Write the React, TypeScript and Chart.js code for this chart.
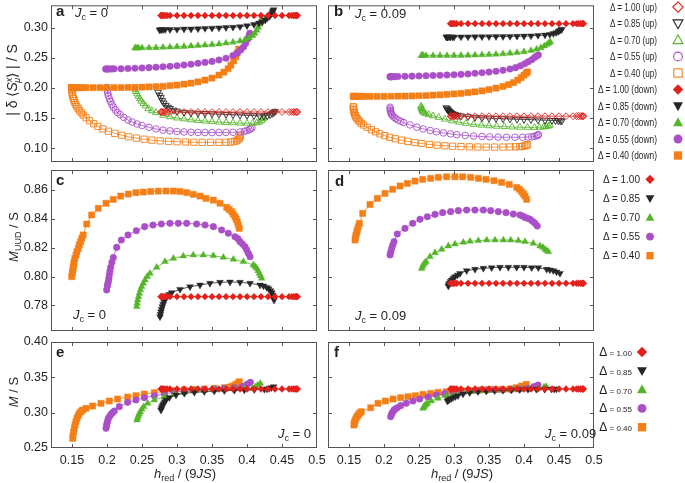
import React, { useEffect, useRef } from "react";
import { Chart, registerables } from "chart.js";
Chart.register(...registerables);

const W = 685;
const H = 483;
const FONT = "'Liberation Sans', Arial, Helvetica, sans-serif";
const RED = "#e3211c";
const BLACK = "#262626";
const GREEN = "#55b52a";
const PURPLE = "#aa4fc8";
const ORANGE = "#f57f17";
const TEXT = "#231f20";
const FRAME = "#555555";
const Y_AXIS_W = 45;
const X_AXIS_H = 30;

// ---------- ticks ----------
const xTickValues = [0.15, 0.2, 0.25, 0.3, 0.35, 0.4, 0.45, 0.5];
const xTickLabels = ["0.15", "0.2", "0.25", "0.3", "0.35", "0.4", "0.45", "0.5"];
const yTicksTop = [0.1, 0.15, 0.2, 0.25, 0.3];
const yLabelsTop = ["0.10", "0.15", "0.20", "0.25", "0.30"];
const yTicksMid = [0.78, 0.8, 0.82, 0.84, 0.86];
const yLabelsMid = ["0.78", "0.80", "0.82", "0.84", "0.86"];
const yTicksBot = [0.25, 0.3, 0.35, 0.4];
const yLabelsBot = ["0.25", "0.30", "0.35", "0.40"];
const deltas = ["1.00", "0.85", "0.70", "0.55", "0.40"];

// ---------- Δ = 1.00 (flat) series: field values and levels ----------
const redXLeft = [0.277, 0.278, 0.279, 0.281, 0.283, 0.286, 0.29, 0.3, 0.31, 0.32, 0.33, 0.34, 0.35, 0.36, 0.37, 0.38, 0.39, 0.4, 0.41, 0.42, 0.43, 0.44, 0.45, 0.46, 0.464, 0.467, 0.469, 0.471, 0.472];
const redXRight = [0.295, 0.296, 0.297, 0.299, 0.301, 0.304, 0.31, 0.32, 0.33, 0.34, 0.35, 0.36, 0.37, 0.38, 0.39, 0.4, 0.41, 0.42, 0.43, 0.44, 0.45, 0.46, 0.47, 0.475, 0.478, 0.481, 0.483, 0.484, 0.485];
const redLevelADown = 0.3205;
const redLevelAUp = 0.16;
const redLevelBDown = 0.307;
const redLevelBUp = 0.153;
const redLevelC = 0.786;
const redLevelD = 0.7953;
const redLevelE = 0.3335;
const redLevelF = 0.3335;

// ---------- panel a (J_c = 0) ----------
const aBlackDown = [[0.275,0.2965],[0.276,0.297],[0.278,0.297],[0.28,0.297],[0.283,0.297],[0.29,0.2972],[0.3,0.2975],[0.31,0.298],[0.32,0.298],[0.33,0.2985],[0.34,0.299],[0.35,0.2995],[0.36,0.3],[0.37,0.3005],[0.38,0.301],[0.39,0.302],[0.4,0.3035],[0.41,0.3055],[0.417,0.308],[0.422,0.31],[0.426,0.313],[0.429,0.316],[0.432,0.319],[0.434,0.322],[0.436,0.325],[0.437,0.328],[0.438,0.33]];
const aBlackUp = [[0.273,0.193],[0.275,0.188],[0.277,0.184],[0.279,0.179],[0.281,0.175],[0.284,0.171],[0.287,0.168],[0.29,0.166],[0.295,0.163],[0.3,0.1615],[0.31,0.1595],[0.32,0.1585],[0.33,0.158],[0.34,0.1575],[0.35,0.157],[0.36,0.1565],[0.37,0.156],[0.38,0.1555],[0.39,0.155],[0.4,0.1545],[0.41,0.154],[0.418,0.1535],[0.424,0.1535],[0.429,0.154],[0.433,0.1555],[0.436,0.1575],[0.438,0.159],[0.44,0.161]];
const aGreenDown = [[0.24,0.2663],[0.241,0.2663],[0.243,0.2664],[0.245,0.2665],[0.25,0.2666],[0.26,0.2668],[0.27,0.267],[0.28,0.2675],[0.29,0.268],[0.3,0.2685],[0.31,0.269],[0.32,0.2698],[0.33,0.2705],[0.34,0.2712],[0.35,0.272],[0.36,0.273],[0.37,0.2745],[0.38,0.276],[0.39,0.278],[0.397,0.28],[0.403,0.283],[0.408,0.287],[0.411,0.291],[0.414,0.296],[0.416,0.301],[0.418,0.306],[0.42,0.311],[0.421,0.315]];
const aGreenUp = [[0.24,0.198],[0.241,0.194],[0.243,0.19],[0.245,0.186],[0.247,0.182],[0.249,0.178],[0.252,0.174],[0.255,0.17],[0.259,0.1655],[0.264,0.162],[0.27,0.159],[0.28,0.1545],[0.29,0.152],[0.3,0.15],[0.31,0.1485],[0.32,0.147],[0.33,0.1458],[0.34,0.1448],[0.35,0.144],[0.36,0.1432],[0.37,0.1425],[0.38,0.142],[0.39,0.1415],[0.4,0.1412],[0.408,0.1412],[0.414,0.142],[0.418,0.1435],[0.421,0.146],[0.423,0.149],[0.424,0.151]];
const aPurpleDown = [[0.198,0.2315],[0.199,0.2315],[0.2,0.2315],[0.202,0.2315],[0.204,0.2316],[0.207,0.2317],[0.21,0.2318],[0.22,0.232],[0.23,0.2324],[0.24,0.2328],[0.25,0.2333],[0.26,0.2338],[0.27,0.2345],[0.28,0.2352],[0.29,0.236],[0.3,0.237],[0.31,0.2382],[0.32,0.2395],[0.33,0.241],[0.34,0.2425],[0.35,0.2442],[0.36,0.2465],[0.37,0.2495],[0.38,0.254],[0.386,0.258],[0.391,0.263],[0.395,0.268],[0.398,0.274],[0.401,0.281],[0.403,0.287],[0.404,0.291]];
const aPurpleUp = [[0.1996,0.2007],[0.2005,0.196],[0.201,0.1915],[0.202,0.187],[0.2035,0.182],[0.205,0.1775],[0.207,0.1725],[0.209,0.168],[0.212,0.1635],[0.215,0.159],[0.219,0.1555],[0.224,0.151],[0.23,0.1467],[0.236,0.1433],[0.243,0.14],[0.25,0.1375],[0.26,0.1345],[0.27,0.1318],[0.28,0.1298],[0.29,0.1285],[0.3,0.1275],[0.31,0.1268],[0.32,0.1263],[0.33,0.126],[0.34,0.1258],[0.35,0.1258],[0.36,0.1258],[0.37,0.126],[0.38,0.1262],[0.39,0.1268],[0.396,0.1278],[0.4,0.129],[0.403,0.1305],[0.405,0.132],[0.407,0.1335]];
const aOrangeDown = [[0.1495,0.2005],[0.15,0.2005],[0.151,0.2005],[0.153,0.2005],[0.155,0.2005],[0.158,0.2005],[0.161,0.2005],[0.165,0.2005],[0.17,0.2005],[0.18,0.2005],[0.19,0.2005],[0.2,0.2005],[0.21,0.2006],[0.22,0.2007],[0.23,0.2008],[0.24,0.201],[0.25,0.2013],[0.26,0.2017],[0.27,0.2022],[0.28,0.2028],[0.29,0.2037],[0.3,0.2048],[0.31,0.2062],[0.32,0.208],[0.33,0.2102],[0.34,0.213],[0.35,0.2165],[0.36,0.2215],[0.367,0.2262],[0.373,0.232],[0.377,0.238],[0.381,0.245],[0.384,0.252],[0.386,0.258],[0.388,0.2645]];
const aOrangeUp = [[0.1495,0.2005],[0.1498,0.197],[0.15,0.193],[0.1505,0.1895],[0.151,0.186],[0.152,0.1825],[0.153,0.179],[0.154,0.1757],[0.1555,0.1723],[0.157,0.169],[0.159,0.1655],[0.161,0.162],[0.1635,0.1585],[0.166,0.155],[0.17,0.1505],[0.175,0.1455],[0.181,0.1405],[0.187,0.136],[0.194,0.1318],[0.202,0.128],[0.211,0.1245],[0.221,0.1213],[0.231,0.1187],[0.242,0.1165],[0.253,0.1147],[0.264,0.1132],[0.276,0.112],[0.288,0.1112],[0.3,0.1105],[0.312,0.11],[0.324,0.1097],[0.336,0.1095],[0.348,0.1095],[0.36,0.1095],[0.37,0.1097],[0.377,0.11],[0.382,0.1108],[0.385,0.112],[0.387,0.1138],[0.389,0.116],[0.39,0.1185],[0.3905,0.121]];

// ---------- panel b (J_c = 0.09) ----------
const bBlackDown = [[0.289,0.2848],[0.2895,0.2848],[0.29,0.2848],[0.291,0.2848],[0.293,0.2848],[0.295,0.2848],[0.298,0.2848],[0.3,0.2848],[0.31,0.2849],[0.32,0.285],[0.33,0.2851],[0.34,0.2852],[0.35,0.2853],[0.36,0.2855],[0.37,0.2856],[0.38,0.2858],[0.39,0.286],[0.4,0.2863],[0.41,0.2867],[0.42,0.2873],[0.43,0.288],[0.437,0.289],[0.442,0.2905],[0.446,0.292],[0.449,0.294],[0.451,0.2955],[0.453,0.297],[0.454,0.2975]];
const bBlackUp = [[0.289,0.167],[0.29,0.1655],[0.291,0.164],[0.292,0.1627],[0.293,0.1615],[0.294,0.1603],[0.295,0.1593],[0.296,0.1583],[0.298,0.1572],[0.3,0.1562],[0.302,0.1553],[0.305,0.1545],[0.31,0.1535],[0.32,0.1522],[0.33,0.1512],[0.34,0.1503],[0.35,0.1498],[0.36,0.1493],[0.37,0.1488],[0.38,0.1484],[0.39,0.148],[0.4,0.1476],[0.41,0.1472],[0.42,0.1468],[0.43,0.1464],[0.44,0.146],[0.445,0.1457],[0.449,0.1455],[0.452,0.1453],[0.454,0.1452]];
const bGreenDown = [[0.2538,0.2539],[0.254,0.2539],[0.2545,0.2539],[0.255,0.2539],[0.256,0.2539],[0.26,0.2539],[0.27,0.2539],[0.28,0.2539],[0.29,0.2539],[0.3,0.254],[0.31,0.2541],[0.32,0.2543],[0.33,0.2546],[0.34,0.255],[0.35,0.2555],[0.36,0.256],[0.37,0.2567],[0.38,0.2577],[0.39,0.2588],[0.4,0.2602],[0.41,0.2622],[0.418,0.2645],[0.424,0.267],[0.429,0.2698],[0.433,0.2725],[0.436,0.2748],[0.4376,0.2767]];
const bGreenUp = [[0.2529,0.1697],[0.2533,0.1675],[0.2538,0.1655],[0.2545,0.1635],[0.2552,0.1617],[0.256,0.16],[0.2575,0.1585],[0.26,0.157],[0.264,0.1555],[0.27,0.1535],[0.278,0.151],[0.287,0.148],[0.297,0.1452],[0.307,0.143],[0.317,0.141],[0.328,0.1393],[0.339,0.138],[0.35,0.137],[0.361,0.1362],[0.372,0.1356],[0.383,0.135],[0.394,0.1346],[0.405,0.1344],[0.415,0.1343],[0.422,0.1345],[0.428,0.135],[0.432,0.1358],[0.435,0.1368],[0.437,0.138]];
const bPurpleDown = [[0.2086,0.2186],[0.209,0.2186],[0.2095,0.2186],[0.21,0.2186],[0.211,0.2187],[0.213,0.2188],[0.216,0.2189],[0.22,0.219],[0.23,0.2193],[0.24,0.2196],[0.25,0.22],[0.26,0.2203],[0.27,0.2207],[0.28,0.2211],[0.29,0.2215],[0.3,0.2219],[0.31,0.2225],[0.32,0.2233],[0.33,0.2243],[0.34,0.2253],[0.35,0.2264],[0.36,0.2277],[0.37,0.2293],[0.38,0.2315],[0.388,0.2338],[0.395,0.2368],[0.401,0.2402],[0.406,0.2435],[0.411,0.247],[0.415,0.2505],[0.418,0.253],[0.4205,0.2549]];
const bPurpleUp = [[0.2086,0.168],[0.2088,0.1655],[0.209,0.163],[0.2095,0.1605],[0.21,0.158],[0.211,0.1557],[0.2125,0.1535],[0.2145,0.1512],[0.217,0.149],[0.22,0.1468],[0.224,0.1445],[0.228,0.1425],[0.237,0.1385],[0.247,0.1348],[0.256,0.1318],[0.266,0.1292],[0.275,0.127],[0.285,0.1252],[0.295,0.1236],[0.304,0.1222],[0.316,0.121],[0.328,0.12],[0.34,0.1192],[0.351,0.1186],[0.363,0.1182],[0.375,0.118],[0.387,0.118],[0.398,0.118],[0.406,0.1182],[0.411,0.1187],[0.415,0.1195],[0.418,0.1205],[0.42,0.1215],[0.4205,0.1225]];
const bOrangeDown = [[0.156,0.186],[0.1565,0.186],[0.157,0.186],[0.158,0.186],[0.16,0.186],[0.163,0.186],[0.167,0.186],[0.172,0.186],[0.18,0.186],[0.19,0.186],[0.2,0.1861],[0.21,0.1862],[0.22,0.1863],[0.23,0.1865],[0.24,0.1867],[0.25,0.187],[0.26,0.1874],[0.27,0.1879],[0.28,0.1885],[0.29,0.1892],[0.3,0.19],[0.31,0.191],[0.32,0.1922],[0.33,0.1936],[0.34,0.1953],[0.35,0.1973],[0.36,0.1998],[0.37,0.2025],[0.378,0.2055],[0.385,0.209],[0.391,0.213],[0.396,0.2172],[0.4,0.2212],[0.403,0.2245],[0.405,0.2267]];
const bOrangeUp = [[0.156,0.169],[0.1562,0.1665],[0.1565,0.164],[0.157,0.1615],[0.1575,0.159],[0.158,0.1565],[0.159,0.154],[0.16,0.1515],[0.1615,0.149],[0.163,0.1465],[0.165,0.144],[0.1675,0.1412],[0.171,0.1383],[0.176,0.1345],[0.182,0.1305],[0.188,0.127],[0.194,0.1237],[0.201,0.1207],[0.208,0.118],[0.216,0.1155],[0.225,0.1132],[0.234,0.1111],[0.244,0.1092],[0.254,0.1075],[0.265,0.106],[0.276,0.1047],[0.287,0.1037],[0.298,0.103],[0.31,0.1024],[0.322,0.102],[0.334,0.1018],[0.346,0.1016],[0.358,0.1016],[0.37,0.1017],[0.38,0.1019],[0.388,0.1021],[0.394,0.1024],[0.398,0.1028],[0.401,0.1035],[0.403,0.1045],[0.405,0.1057]];

// ---------- panel c (M_UUD, J_c = 0) ----------
const cOrange = [[0.1495,0.7999],[0.1505,0.8025],[0.151,0.8045],[0.1519,0.8064],[0.1525,0.8085],[0.153,0.81],[0.154,0.8125],[0.1557,0.8149],[0.157,0.8172],[0.159,0.8195],[0.1605,0.822],[0.1624,0.8242],[0.164,0.8265],[0.166,0.8288],[0.171,0.8364],[0.178,0.8427],[0.1876,0.8473],[0.1986,0.8508],[0.209,0.8535],[0.2195,0.8558],[0.2305,0.8572],[0.2414,0.8582],[0.2519,0.8586],[0.2624,0.859],[0.2733,0.8592],[0.2843,0.8593],[0.2948,0.8593],[0.3043,0.859],[0.3138,0.8582],[0.3233,0.857],[0.3329,0.8558],[0.3414,0.8542],[0.3519,0.853],[0.3614,0.8508],[0.371,0.848],[0.3745,0.8465],[0.3781,0.845],[0.3805,0.8432],[0.3829,0.8415],[0.3845,0.8398],[0.3862,0.838],[0.3876,0.8357],[0.389,0.8334]];
const cPurple = [[0.1995,0.7906],[0.2005,0.7935],[0.2012,0.795],[0.2019,0.7964],[0.2026,0.7987],[0.2033,0.801],[0.2042,0.8037],[0.2052,0.8064],[0.207,0.8098],[0.209,0.8131],[0.2138,0.8202],[0.2205,0.8253],[0.23,0.8288],[0.2419,0.8318],[0.2538,0.8346],[0.2657,0.8357],[0.2776,0.8364],[0.29,0.8369],[0.3019,0.8369],[0.3138,0.8369],[0.328,0.8364],[0.34,0.8357],[0.3519,0.8346],[0.3638,0.8323],[0.3733,0.83],[0.3829,0.8276],[0.387,0.8262],[0.39,0.8242],[0.3935,0.8225],[0.3971,0.8207],[0.3995,0.8185],[0.4019,0.8161],[0.4043,0.8138]];
const cGreen = [[0.2424,0.7791],[0.2431,0.7814],[0.2438,0.7837],[0.245,0.786],[0.2462,0.7883],[0.2478,0.7907],[0.2495,0.793],[0.2518,0.7953],[0.2543,0.7976],[0.2575,0.8],[0.2614,0.8022],[0.271,0.8064],[0.2829,0.8103],[0.2948,0.8126],[0.309,0.8142],[0.3233,0.8149],[0.3376,0.8149],[0.3519,0.8145],[0.3662,0.8133],[0.3805,0.8119],[0.3948,0.8103],[0.409,0.808],[0.4115,0.807],[0.4138,0.8057],[0.4158,0.804],[0.4176,0.8022],[0.4193,0.8005],[0.421,0.7987]];
const cBlack = [[0.2757,0.7721],[0.2764,0.7738],[0.2771,0.7756],[0.278,0.7773],[0.279,0.7791],[0.2801,0.7808],[0.2814,0.7825],[0.2832,0.7843],[0.2852,0.786],[0.2885,0.7875],[0.2924,0.7888],[0.3043,0.7911],[0.3186,0.7929],[0.3329,0.7941],[0.3471,0.7953],[0.3614,0.796],[0.3757,0.7962],[0.39,0.796],[0.4043,0.7953],[0.4186,0.7941],[0.4235,0.7935],[0.4281,0.7925],[0.431,0.7915],[0.4338,0.7902],[0.4355,0.7888],[0.4367,0.7872],[0.4378,0.7855],[0.4386,0.7837]];

// ---------- panel d (M_UUD, J_c = 0.09) ----------
const dOrange = [[0.1586,0.8253],[0.1593,0.827],[0.16,0.8288],[0.161,0.8305],[0.1619,0.8323],[0.1633,0.8346],[0.1648,0.8369],[0.1695,0.8438],[0.18,0.85],[0.1905,0.8542],[0.2014,0.8577],[0.2124,0.8605],[0.2229,0.8628],[0.2333,0.8646],[0.2443,0.8662],[0.2552,0.8674],[0.2667,0.8681],[0.2776,0.8688],[0.2895,0.8692],[0.3014,0.8692],[0.3124,0.8692],[0.3238,0.8688],[0.3348,0.8681],[0.3457,0.8674],[0.3571,0.8665],[0.3681,0.8653],[0.379,0.8639],[0.3895,0.8618],[0.3935,0.8605],[0.3967,0.8588],[0.3992,0.8573],[0.4014,0.8558],[0.4038,0.8535]];
const dPurple = [[0.2086,0.8149],[0.2097,0.8172],[0.211,0.8195],[0.2125,0.8218],[0.2143,0.8242],[0.219,0.8295],[0.23,0.8334],[0.241,0.8369],[0.2514,0.8397],[0.2619,0.8415],[0.2729,0.8431],[0.2838,0.8443],[0.2952,0.845],[0.3062,0.8457],[0.3181,0.8461],[0.33,0.8461],[0.3419,0.8461],[0.3524,0.8457],[0.3633,0.845],[0.3743,0.8443],[0.3848,0.8433],[0.3943,0.8427],[0.398,0.8419],[0.4014,0.841],[0.405,0.8404],[0.4086,0.8397],[0.4122,0.8383],[0.4157,0.8369],[0.419,0.835]];
const dGreen = [[0.2538,0.8055],[0.255,0.8069],[0.2562,0.8083],[0.258,0.8093],[0.26,0.8103],[0.2657,0.8138],[0.2729,0.8165],[0.2824,0.8188],[0.2919,0.8212],[0.3014,0.8225],[0.3133,0.8237],[0.3229,0.8244],[0.3348,0.8249],[0.3467,0.8253],[0.3586,0.8253],[0.3705,0.8253],[0.381,0.8253],[0.3919,0.8249],[0.4014,0.8242],[0.4133,0.823],[0.4229,0.8212],[0.427,0.8202],[0.43,0.8188],[0.4325,0.818],[0.4348,0.8172]];
const dBlack = [[0.2919,0.7934],[0.2926,0.7943],[0.2933,0.7953],[0.295,0.7965],[0.2967,0.7976],[0.299,0.7988],[0.3014,0.7999],[0.305,0.801],[0.3086,0.8022],[0.3181,0.8041],[0.33,0.805],[0.3419,0.8057],[0.3538,0.8061],[0.3657,0.8064],[0.3776,0.8064],[0.3895,0.8064],[0.4,0.8064],[0.411,0.8061],[0.4205,0.8061],[0.4324,0.805],[0.437,0.8046],[0.4419,0.8041],[0.4465,0.8032],[0.4514,0.8022]];

// ---------- panel e (M, J_c = 0) ----------
const eOrange = [[0.151,0.2636],[0.1515,0.268],[0.1524,0.273],[0.1533,0.2778],[0.1543,0.2825],[0.1556,0.2872],[0.1571,0.2919],[0.1587,0.2955],[0.1605,0.299],[0.1628,0.3015],[0.1652,0.3037],[0.17,0.3061],[0.1795,0.3094],[0.1914,0.3132],[0.2033,0.3165],[0.2152,0.3193],[0.2295,0.3221],[0.2414,0.324],[0.2533,0.3264],[0.2676,0.3283],[0.2819,0.3297],[0.2962,0.3311],[0.3105,0.3321],[0.3248,0.333],[0.339,0.3335],[0.3533,0.3344],[0.3676,0.3354],[0.375,0.3363],[0.3795,0.3377],[0.3835,0.3395],[0.3867,0.3415],[0.389,0.3439]];
const ePurple = [[0.1986,0.2778],[0.1993,0.2813],[0.2,0.2848],[0.201,0.2885],[0.2019,0.2919],[0.2038,0.2948],[0.2057,0.2976],[0.208,0.3],[0.2105,0.3023],[0.2176,0.3085],[0.2295,0.3146],[0.2414,0.3179],[0.2533,0.3212],[0.2676,0.324],[0.2819,0.3264],[0.2962,0.3288],[0.3105,0.3306],[0.3248,0.3316],[0.339,0.3325],[0.3533,0.3335],[0.3676,0.3344],[0.3819,0.3354],[0.3938,0.3368],[0.398,0.3385],[0.401,0.3406],[0.4048,0.3429]];
const eGreen = [[0.2429,0.2896],[0.2438,0.2927],[0.2448,0.2957],[0.246,0.2985],[0.2476,0.3014],[0.2498,0.305],[0.2524,0.3085],[0.2581,0.3132],[0.2676,0.3179],[0.2819,0.3226],[0.2962,0.3259],[0.3105,0.3288],[0.3248,0.3306],[0.339,0.3316],[0.3533,0.3321],[0.3676,0.333],[0.3819,0.3335],[0.3962,0.3335],[0.4081,0.3344],[0.412,0.3365],[0.4152,0.3391],[0.419,0.3415]];
const eBlack = [[0.2771,0.3037],[0.2778,0.3061],[0.2786,0.3085],[0.2797,0.3108],[0.281,0.3132],[0.2825,0.3155],[0.2843,0.3179],[0.289,0.3212],[0.2986,0.325],[0.3105,0.3273],[0.3248,0.3288],[0.339,0.3297],[0.3533,0.3306],[0.3676,0.3311],[0.3819,0.3316],[0.3962,0.3321],[0.4105,0.3325],[0.4248,0.333],[0.4285,0.3337],[0.4319,0.3344],[0.435,0.3355],[0.4381,0.3368]];

// ---------- panel f (M, J_c = 0.09) ----------
const fOrange = [[0.1571,0.2825],[0.1576,0.2848],[0.1581,0.2872],[0.1592,0.29],[0.1605,0.2929],[0.162,0.2952],[0.1638,0.2976],[0.1655,0.2995],[0.1676,0.3014],[0.181,0.307],[0.1914,0.3132],[0.2019,0.3165],[0.2129,0.3193],[0.2238,0.3212],[0.2343,0.3226],[0.2448,0.324],[0.2557,0.3259],[0.2667,0.3273],[0.2771,0.3288],[0.289,0.3297],[0.3,0.3306],[0.3105,0.3311],[0.3224,0.3316],[0.3343,0.3321],[0.3448,0.3325],[0.3557,0.333],[0.3676,0.333],[0.3795,0.3335],[0.389,0.3354],[0.3962,0.3377],[0.4033,0.3401]];
const fPurple = [[0.2095,0.2943],[0.2104,0.2966],[0.2114,0.299],[0.2128,0.3013],[0.2143,0.3037],[0.2165,0.3054],[0.219,0.307],[0.2238,0.3099],[0.2319,0.3132],[0.2414,0.3165],[0.251,0.3193],[0.2629,0.3221],[0.2748,0.325],[0.2867,0.3269],[0.2986,0.3288],[0.3105,0.3297],[0.3224,0.3306],[0.3343,0.3311],[0.3462,0.3316],[0.3581,0.3321],[0.37,0.3325],[0.3819,0.333],[0.3938,0.3335],[0.4057,0.3344],[0.4143,0.3368],[0.42,0.3391]];
const fGreen = [[0.2557,0.3061],[0.2569,0.308],[0.2581,0.3099],[0.2598,0.3116],[0.2619,0.3132],[0.2676,0.3165],[0.2771,0.3203],[0.289,0.324],[0.301,0.3264],[0.3129,0.3283],[0.3248,0.3297],[0.3367,0.3306],[0.3486,0.3311],[0.3605,0.3316],[0.3724,0.3321],[0.3843,0.3325],[0.3962,0.333],[0.4081,0.3335],[0.42,0.3344],[0.4286,0.3363],[0.4319,0.3368]];
const fBlack = [[0.2905,0.3165],[0.292,0.3176],[0.2938,0.3188],[0.296,0.32],[0.2986,0.3212],[0.302,0.3226],[0.3057,0.324],[0.3129,0.3264],[0.3224,0.3283],[0.3343,0.3297],[0.3462,0.3306],[0.3581,0.3311],[0.37,0.3316],[0.3819,0.3321],[0.3938,0.3325],[0.4057,0.333],[0.4176,0.333],[0.4295,0.333],[0.439,0.3335],[0.443,0.3335],[0.4462,0.3335]];

// ---------- styles ----------
const STY: any = {
  red: { color: RED, style: "rectRot", r: 3.4, rot: 0 },
  black: { color: BLACK, style: "triangle", r: 3.9, rot: 180 },
  green: { color: GREEN, style: "triangle", r: 3.9, rot: 0 },
  purple: { color: PURPLE, style: "circle", r: 3.3, rot: 0 },
  orange: { color: ORANGE, style: "rect", r: 4.4, rot: 0 },
};

const flat = (xs: number[], level: number) => xs.map((x) => [x, level]);
const S = (kind: string, data: number[][], open = false) => ({ ...STY[kind], data, open });

const panels: any[] = [
  {
    rect: [51, 2, 317, 162], yMin: 0.0768, yMax: 0.3375, yTicks: yTicksTop, yLabels: yLabelsTop, showX: false, showY: true,
    series: [S("red", flat(redXLeft, redLevelADown)), S("black", aBlackDown), S("green", aGreenDown), S("purple", aPurpleDown), S("orange", aOrangeDown),
      S("red", flat(redXLeft, redLevelAUp), true), S("black", aBlackUp, true), S("green", aGreenUp, true), S("purple", aPurpleUp, true), S("orange", aOrangeUp, true)],
  },
  {
    rect: [328, 2, 594, 162], yMin: 0.0768, yMax: 0.3375, yTicks: yTicksTop, yLabels: yLabelsTop, showX: false, showY: false,
    series: [S("red", flat(redXRight, redLevelBDown)), S("black", bBlackDown), S("green", bGreenDown), S("purple", bPurpleDown), S("orange", bOrangeDown),
      S("red", flat(redXRight, redLevelBUp), true), S("black", bBlackUp, true), S("green", bGreenUp, true), S("purple", bPurpleUp, true), S("orange", bOrangeUp, true)],
  },
  {
    rect: [51, 170, 317, 331], yMin: 0.7622, yMax: 0.8739, yTicks: yTicksMid, yLabels: yLabelsMid, showX: false, showY: true,
    series: [S("red", flat(redXLeft, redLevelC)), S("black", cBlack), S("green", cGreen), S("purple", cPurple), S("orange", cOrange)],
  },
  {
    rect: [328, 170, 594, 331], yMin: 0.7622, yMax: 0.8739, yTicks: yTicksMid, yLabels: yLabelsMid, showX: false, showY: false,
    series: [S("red", flat(redXRight, redLevelD)), S("black", dBlack), S("green", dGreen), S("purple", dPurple), S("orange", dOrange)],
  },
  {
    rect: [51, 342, 317, 448], yMin: 0.25, yMax: 0.4, yTicks: yTicksBot, yLabels: yLabelsBot, showX: true, showY: true,
    series: [S("red", flat(redXLeft, redLevelE)), S("black", eBlack), S("green", eGreen), S("purple", ePurple), S("orange", eOrange)],
  },
  {
    rect: [328, 342, 594, 448], yMin: 0.25, yMax: 0.4, yTicks: yTicksBot, yLabels: yLabelsBot, showX: true, showY: false,
    series: [S("red", flat(redXRight, redLevelF)), S("black", fBlack), S("green", fGreen), S("purple", fPurple), S("orange", fOrange)],
  },
];

const framePlugin = {
  id: "frameTicks",
  afterDatasetsDraw(chart: any) {
    const { ctx, chartArea } = chart;
    const { left, top, right, bottom } = chartArea;
    const xs = chart.scales.x;
    const ys = chart.scales.y;
    ctx.save();
    ctx.strokeStyle = FRAME;
    ctx.lineWidth = 1;
    ctx.strokeRect(left + 0.5, top + 0.5, right - left - 1, bottom - top - 1);
    const L = 4;
    ctx.beginPath();
    xs.ticks.forEach((t: any) => {
      const px = Math.round(xs.getPixelForValue(t.value)) + 0.5;
      if (px <= left + 1 || px >= right - 1) return;
      ctx.moveTo(px, bottom);
      ctx.lineTo(px, bottom - L);
      ctx.moveTo(px, top);
      ctx.lineTo(px, top + L);
    });
    ys.ticks.forEach((t: any) => {
      const py = Math.round(ys.getPixelForValue(t.value)) + 0.5;
      if (py <= top + 1 || py >= bottom - 1) return;
      ctx.moveTo(left, py);
      ctx.lineTo(left + L, py);
      ctx.moveTo(right, py);
      ctx.lineTo(right - L, py);
    });
    ctx.stroke();
    ctx.restore();
  },
};

function zeroPad(s: any) {
  s.paddingLeft = 0;
  s.paddingRight = 0;
  s.paddingTop = 0;
  s.paddingBottom = 0;
}

function PanelChart({ def }: { def: any }) {
  const ref = useRef<HTMLCanvasElement>(null);
  useEffect(() => {
    const [l, t, r, b] = def.rect;
    const chart = new Chart(ref.current as HTMLCanvasElement, {
      type: "scatter",
      data: {
        datasets: def.series.map((s: any) => ({
          data: s.data.map((p: number[]) => ({ x: p[0], y: p[1] })),
          showLine: true,
          borderColor: s.color,
          borderWidth: 0.8,
          pointStyle: s.style,
          pointRotation: s.rot,
          pointRadius: s.r,
          pointHoverRadius: s.r,
          pointBackgroundColor: s.open ? "rgba(255,255,255,0)" : s.color,
          pointBorderColor: s.color,
          pointBorderWidth: s.open ? 0.9 : 0.4,
        })),
      },
      options: {
        responsive: false,
        animation: false,
        devicePixelRatio: 1,
        events: [],
        layout: { padding: { left: l - Y_AXIS_W, top: t, right: W - r, bottom: H - b - X_AXIS_H } },
        plugins: { legend: { display: false }, tooltip: { enabled: false } },
        scales: {
          x: {
            type: "linear",
            position: "bottom",
            min: 0.12,
            max: 0.5,
            afterBuildTicks: (s: any) => { s.ticks = xTickValues.map((v) => ({ value: v })); },
            afterFit: (s: any) => { s.height = X_AXIS_H; zeroPad(s); },
            grid: { display: false, drawTicks: false },
            border: { display: false },
            ticks: {
              display: def.showX,
              autoSkip: false,
              maxRotation: 0,
              padding: 5,
              color: TEXT,
              font: { family: FONT, size: 12.5 },
              callback: (_v: any, i: number) => xTickLabels[i],
            },
          },
          y: {
            type: "linear",
            position: "left",
            min: def.yMin,
            max: def.yMax,
            afterBuildTicks: (s: any) => { s.ticks = def.yTicks.map((v: number) => ({ value: v })); },
            afterFit: (s: any) => { s.width = Y_AXIS_W; zeroPad(s); },
            grid: { display: false, drawTicks: false },
            border: { display: false },
            ticks: {
              display: def.showY,
              autoSkip: false,
              padding: 3,
              color: TEXT,
              font: { family: FONT, size: 12.5 },
              callback: (_v: any, i: number) => def.yLabels[i],
            },
          },
        },
      } as any,
      plugins: [framePlugin],
    });
    return () => chart.destroy();
  }, []);
  return <canvas ref={ref} width={W} height={H} style={{ position: "absolute", left: 0, top: 0 }} />;
}

const KINDS = ["diamond", "triDown", "triUp", "circle", "square"];
const KCOLORS = [RED, BLACK, GREEN, PURPLE, ORANGE];

function Marker({ kind, cx, cy, s, color, open }: any) {
  const fill = open ? "none" : color;
  const sw = open ? 1.1 : 0;
  if (kind === "diamond")
    return <polygon points={`${cx},${cy - s} ${cx + s},${cy} ${cx},${cy + s} ${cx - s},${cy}`} fill={fill} stroke={color} strokeWidth={sw} />;
  if (kind === "triUp")
    return <polygon points={`${cx},${cy - s} ${cx + s * 0.95},${cy + s * 0.7} ${cx - s * 0.95},${cy + s * 0.7}`} fill={fill} stroke={color} strokeWidth={sw} />;
  if (kind === "triDown")
    return <polygon points={`${cx},${cy + s} ${cx + s * 0.95},${cy - s * 0.7} ${cx - s * 0.95},${cy - s * 0.7}`} fill={fill} stroke={color} strokeWidth={sw} />;
  if (kind === "circle") return <circle cx={cx} cy={cy} r={s * 0.85} fill={fill} stroke={color} strokeWidth={sw} />;
  return <rect x={cx - s * 0.8} y={cy - s * 0.8} width={s * 1.6} height={s * 1.6} fill={fill} stroke={color} strokeWidth={sw} />;
}

function Jc({ x, y, val }: any) {
  return (
    <text x={x} y={y} fontSize={13} style={{ whiteSpace: "pre" }}>
      <tspan fontStyle="italic">J</tspan>
      <tspan fontSize={9} dy={3}>c</tspan>
      <tspan dy={-3}>{" = " + val}</tspan>
    </text>
  );
}

function Overlay() {
  const rows1 = [];
  for (let i = 0; i < 10; i++) {
    const k = i % 5;
    const up = i < 5;
    const yc = 7 + i * 16.5;
    rows1.push(
      <g key={"l1" + i}>
        <text x={657} y={yc + 3.6} fontSize={10.5} textAnchor="end" textLength={up ? 47 : 59} lengthAdjust="spacingAndGlyphs" style={{ whiteSpace: "pre" }}>
          {"Δ = " + deltas[k] + (up ? " (up)" : " (down)")}
        </text>
        <Marker kind={KINDS[k]} cx={678} cy={yc} s={5.2} color={KCOLORS[k]} open={up} />
      </g>
    );
  }
  const rows2 = deltas.map((d, k) => {
    const yc = 179.3 + k * 19.1;
    return (
      <g key={"l2" + k}>
        <text x={640} y={yc + 3.5} fontSize={10} textAnchor="end" style={{ whiteSpace: "pre" }}>{"Δ = " + d}</text>
        <Marker kind={KINDS[k]} cx={650} cy={yc} s={4.6} color={KCOLORS[k]} open={false} />
      </g>
    );
  });
  const rows3 = deltas.map((d, k) => {
    const yc = 352 + k * 18.8;
    return (
      <g key={"l3" + k}>
        <text x={632} y={yc + 4} textAnchor="end" style={{ whiteSpace: "pre" }}>
          <tspan fontSize={12}>Δ</tspan>
          <tspan fontSize={8}>{" = " + d}</tspan>
        </text>
        <Marker kind={KINDS[k]} cx={642} cy={yc} s={5.2} color={KCOLORS[k]} open={false} />
      </g>
    );
  });
  return (
    <svg width={W} height={H} style={{ position: "absolute", left: 0, top: 0, pointerEvents: "none" }} fontFamily={FONT} fill={TEXT}>
      {/* panel letters */}
      <text x={56} y={16} fontSize={15} fontWeight="bold">a</text>
      <text x={334} y={16} fontSize={15} fontWeight="bold">b</text>
      <text x={56} y={185} fontSize={15} fontWeight="bold">c</text>
      <text x={335} y={186} fontSize={15} fontWeight="bold">d</text>
      <text x={56} y={357} fontSize={15} fontWeight="bold">e</text>
      <text x={334} y={357} fontSize={15} fontWeight="bold">f</text>
      {/* J_c annotations */}
      <Jc x={75} y={17} val="0" />
      <Jc x={355} y={18} val="0.09" />
      <Jc x={73} y={319} val="0" />
      <Jc x={355} y={320} val="0.09" />
      <Jc x={278} y={438} val="0" />
      <Jc x={545} y={438} val="0.09" />
      {/* y-axis titles */}
      <text transform="translate(17,80) rotate(-90)" fontSize={14} textAnchor="middle" style={{ whiteSpace: "pre" }}>
        <tspan>{"| δ ⟨"}</tspan>
        <tspan fontStyle="italic">S</tspan>
        <tspan fontSize={9} fontStyle="italic" dy={-5}>x</tspan>
        <tspan fontSize={9} fontStyle="italic" dx={-5} dy={8}>μ</tspan>
        <tspan dy={-3}>{"⟩ | / S"}</tspan>
      </text>
      <text transform="translate(18,237) rotate(-90)" fontSize={13} textAnchor="middle" style={{ whiteSpace: "pre" }}>
        <tspan fontStyle="italic">M</tspan>
        <tspan fontSize={9} dy={3}>UUD</tspan>
        <tspan dy={-3}>{" / S"}</tspan>
      </text>
      <text transform="translate(18,392) rotate(-90)" fontSize={13} textAnchor="middle" style={{ whiteSpace: "pre" }}>
        <tspan fontStyle="italic">M</tspan>
        <tspan>{" / S"}</tspan>
      </text>
      {/* x-axis titles */}
      {[185, 462].map((cx) => (
        <text key={"xt" + cx} x={cx} y={478} fontSize={13} textAnchor="middle" style={{ whiteSpace: "pre" }}>
          <tspan fontStyle="italic">h</tspan>
          <tspan fontSize={9} dy={3}>red</tspan>
          <tspan dy={-3}>{" / (9"}</tspan>
          <tspan fontStyle="italic">JS</tspan>
          <tspan>)</tspan>
        </text>
      ))}
      {rows1}
      {rows2}
      {rows3}
    </svg>
  );
}

export default function App() {
  return (
    <div style={{ position: "fixed", left: 0, top: 0, width: W, height: H, background: "#ffffff", overflow: "hidden" }}>
      {panels.map((p, i) => (
        <PanelChart key={i} def={p} />
      ))}
      <Overlay />
    </div>
  );
}
